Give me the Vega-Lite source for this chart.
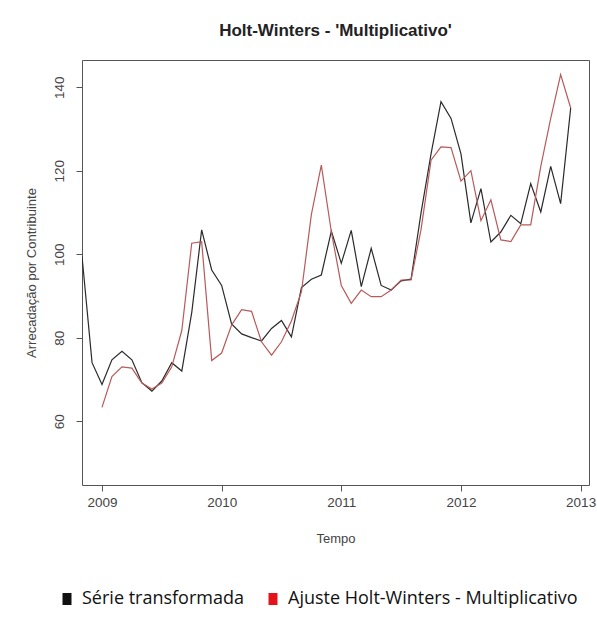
{
  "$schema": "https://vega.github.io/schema/vega-lite/v6.json",
  "autosize": {"type": "none"},
  "padding": {"left": 82, "top": 60, "right": 8, "bottom": 133},
  "width": 507,
  "height": 425,
  "background": "white",
  "title": {
    "text": "Holt-Winters - 'Multiplicativo'",
    "font": "Liberation Sans",
    "fontSize": 17,
    "fontWeight": "bold",
    "color": "#222222",
    "anchor": "middle",
    "offset": 20
  },
  "config": {
    "view": {"stroke": "#555555", "strokeWidth": 1},
    "axis": {
      "domain": false,
      "grid": false,
      "tickColor": "#555555",
      "tickSize": 6,
      "labelFont": "Liberation Sans",
      "labelFontSize": 13.5,
      "labelColor": "#444444",
      "titleFont": "Liberation Sans",
      "titleFontSize": 13,
      "titleFontWeight": "normal",
      "titleColor": "#444444"
    }
  },
  "data": {
    "values": [
      {"t": 2008.833, "serie": "Série transformada", "v": 99.5},
      {"t": 2008.917, "serie": "Série transformada", "v": 74.0},
      {"t": 2009.000, "serie": "Série transformada", "v": 68.8},
      {"t": 2009.083, "serie": "Série transformada", "v": 74.7},
      {"t": 2009.167, "serie": "Série transformada", "v": 76.7},
      {"t": 2009.250, "serie": "Série transformada", "v": 74.7},
      {"t": 2009.333, "serie": "Série transformada", "v": 69.2},
      {"t": 2009.417, "serie": "Série transformada", "v": 67.2},
      {"t": 2009.500, "serie": "Série transformada", "v": 69.6},
      {"t": 2009.583, "serie": "Série transformada", "v": 74.0},
      {"t": 2009.667, "serie": "Série transformada", "v": 72.0},
      {"t": 2009.750, "serie": "Série transformada", "v": 86.0},
      {"t": 2009.833, "serie": "Série transformada", "v": 105.8},
      {"t": 2009.917, "serie": "Série transformada", "v": 96.2},
      {"t": 2010.000, "serie": "Série transformada", "v": 92.5},
      {"t": 2010.083, "serie": "Série transformada", "v": 83.3},
      {"t": 2010.167, "serie": "Série transformada", "v": 80.9},
      {"t": 2010.250, "serie": "Série transformada", "v": 80.0},
      {"t": 2010.333, "serie": "Série transformada", "v": 79.2},
      {"t": 2010.417, "serie": "Série transformada", "v": 82.2},
      {"t": 2010.500, "serie": "Série transformada", "v": 84.1},
      {"t": 2010.583, "serie": "Série transformada", "v": 80.2},
      {"t": 2010.667, "serie": "Série transformada", "v": 92.0},
      {"t": 2010.750, "serie": "Série transformada", "v": 94.0},
      {"t": 2010.833, "serie": "Série transformada", "v": 95.0},
      {"t": 2010.917, "serie": "Série transformada", "v": 105.5},
      {"t": 2011.000, "serie": "Série transformada", "v": 97.8},
      {"t": 2011.083, "serie": "Série transformada", "v": 105.7},
      {"t": 2011.167, "serie": "Série transformada", "v": 92.2},
      {"t": 2011.250, "serie": "Série transformada", "v": 101.4},
      {"t": 2011.333, "serie": "Série transformada", "v": 92.5},
      {"t": 2011.417, "serie": "Série transformada", "v": 91.4},
      {"t": 2011.500, "serie": "Série transformada", "v": 93.6},
      {"t": 2011.583, "serie": "Série transformada", "v": 94.0},
      {"t": 2011.667, "serie": "Série transformada", "v": 110.0},
      {"t": 2011.750, "serie": "Série transformada", "v": 124.0},
      {"t": 2011.833, "serie": "Série transformada", "v": 136.5},
      {"t": 2011.917, "serie": "Série transformada", "v": 132.5},
      {"t": 2012.000, "serie": "Série transformada", "v": 124.0},
      {"t": 2012.083, "serie": "Série transformada", "v": 107.5},
      {"t": 2012.167, "serie": "Série transformada", "v": 115.7},
      {"t": 2012.250, "serie": "Série transformada", "v": 102.9},
      {"t": 2012.333, "serie": "Série transformada", "v": 105.3},
      {"t": 2012.417, "serie": "Série transformada", "v": 109.3},
      {"t": 2012.500, "serie": "Série transformada", "v": 107.3},
      {"t": 2012.583, "serie": "Série transformada", "v": 116.9},
      {"t": 2012.667, "serie": "Série transformada", "v": 110.1},
      {"t": 2012.750, "serie": "Série transformada", "v": 121.0},
      {"t": 2012.833, "serie": "Série transformada", "v": 112.1},
      {"t": 2012.917, "serie": "Série transformada", "v": 135.0},

      {"t": 2009.000, "serie": "Ajuste Holt-Winters - Multiplicativo", "v": 63.3},
      {"t": 2009.083, "serie": "Ajuste Holt-Winters - Multiplicativo", "v": 70.7},
      {"t": 2009.167, "serie": "Ajuste Holt-Winters - Multiplicativo", "v": 73.0},
      {"t": 2009.250, "serie": "Ajuste Holt-Winters - Multiplicativo", "v": 72.7},
      {"t": 2009.333, "serie": "Ajuste Holt-Winters - Multiplicativo", "v": 69.1},
      {"t": 2009.417, "serie": "Ajuste Holt-Winters - Multiplicativo", "v": 67.7},
      {"t": 2009.500, "serie": "Ajuste Holt-Winters - Multiplicativo", "v": 69.1},
      {"t": 2009.583, "serie": "Ajuste Holt-Winters - Multiplicativo", "v": 73.0},
      {"t": 2009.667, "serie": "Ajuste Holt-Winters - Multiplicativo", "v": 81.7},
      {"t": 2009.750, "serie": "Ajuste Holt-Winters - Multiplicativo", "v": 102.6},
      {"t": 2009.833, "serie": "Ajuste Holt-Winters - Multiplicativo", "v": 103.0},
      {"t": 2009.917, "serie": "Ajuste Holt-Winters - Multiplicativo", "v": 74.5},
      {"t": 2010.000, "serie": "Ajuste Holt-Winters - Multiplicativo", "v": 76.3},
      {"t": 2010.083, "serie": "Ajuste Holt-Winters - Multiplicativo", "v": 83.0},
      {"t": 2010.167, "serie": "Ajuste Holt-Winters - Multiplicativo", "v": 86.7},
      {"t": 2010.250, "serie": "Ajuste Holt-Winters - Multiplicativo", "v": 86.3},
      {"t": 2010.333, "serie": "Ajuste Holt-Winters - Multiplicativo", "v": 79.0},
      {"t": 2010.417, "serie": "Ajuste Holt-Winters - Multiplicativo", "v": 75.8},
      {"t": 2010.500, "serie": "Ajuste Holt-Winters - Multiplicativo", "v": 79.0},
      {"t": 2010.583, "serie": "Ajuste Holt-Winters - Multiplicativo", "v": 84.0},
      {"t": 2010.667, "serie": "Ajuste Holt-Winters - Multiplicativo", "v": 91.0},
      {"t": 2010.750, "serie": "Ajuste Holt-Winters - Multiplicativo", "v": 109.5},
      {"t": 2010.833, "serie": "Ajuste Holt-Winters - Multiplicativo", "v": 121.3},
      {"t": 2010.917, "serie": "Ajuste Holt-Winters - Multiplicativo", "v": 105.3},
      {"t": 2011.000, "serie": "Ajuste Holt-Winters - Multiplicativo", "v": 92.5},
      {"t": 2011.083, "serie": "Ajuste Holt-Winters - Multiplicativo", "v": 88.2},
      {"t": 2011.167, "serie": "Ajuste Holt-Winters - Multiplicativo", "v": 91.4},
      {"t": 2011.250, "serie": "Ajuste Holt-Winters - Multiplicativo", "v": 89.8},
      {"t": 2011.333, "serie": "Ajuste Holt-Winters - Multiplicativo", "v": 89.8},
      {"t": 2011.417, "serie": "Ajuste Holt-Winters - Multiplicativo", "v": 91.4},
      {"t": 2011.500, "serie": "Ajuste Holt-Winters - Multiplicativo", "v": 93.8},
      {"t": 2011.583, "serie": "Ajuste Holt-Winters - Multiplicativo", "v": 93.8},
      {"t": 2011.667, "serie": "Ajuste Holt-Winters - Multiplicativo", "v": 106.0},
      {"t": 2011.750, "serie": "Ajuste Holt-Winters - Multiplicativo", "v": 122.5},
      {"t": 2011.833, "serie": "Ajuste Holt-Winters - Multiplicativo", "v": 125.7},
      {"t": 2011.917, "serie": "Ajuste Holt-Winters - Multiplicativo", "v": 125.5},
      {"t": 2012.000, "serie": "Ajuste Holt-Winters - Multiplicativo", "v": 117.5},
      {"t": 2012.083, "serie": "Ajuste Holt-Winters - Multiplicativo", "v": 120.0},
      {"t": 2012.167, "serie": "Ajuste Holt-Winters - Multiplicativo", "v": 108.0},
      {"t": 2012.250, "serie": "Ajuste Holt-Winters - Multiplicativo", "v": 113.0},
      {"t": 2012.333, "serie": "Ajuste Holt-Winters - Multiplicativo", "v": 103.4},
      {"t": 2012.417, "serie": "Ajuste Holt-Winters - Multiplicativo", "v": 103.0},
      {"t": 2012.500, "serie": "Ajuste Holt-Winters - Multiplicativo", "v": 107.0},
      {"t": 2012.583, "serie": "Ajuste Holt-Winters - Multiplicativo", "v": 107.0},
      {"t": 2012.667, "serie": "Ajuste Holt-Winters - Multiplicativo", "v": 121.0},
      {"t": 2012.750, "serie": "Ajuste Holt-Winters - Multiplicativo", "v": 132.5},
      {"t": 2012.833, "serie": "Ajuste Holt-Winters - Multiplicativo", "v": 143.0},
      {"t": 2012.917, "serie": "Ajuste Holt-Winters - Multiplicativo", "v": 135.0}
    ]
  },
  "mark": {"type": "line", "strokeWidth": 1.2, "clip": true},
  "encoding": {
    "x": {
      "field": "t",
      "type": "quantitative",
      "scale": {"domain": [2008.833, 2013.07], "nice": false, "zero": false},
      "axis": {
        "title": "Tempo",
        "values": [2009, 2010, 2011, 2012, 2013],
        "format": "d",
        "labelPadding": 4,
        "titlePadding": 24
      }
    },
    "y": {
      "field": "v",
      "type": "quantitative",
      "scale": {"domain": [44.7, 146.5], "nice": false, "zero": false},
      "axis": {
        "title": "Arrecadação por Contribuinte",
        "values": [60, 80, 100, 120, 140],
        "labelAngle": 270,
        "labelAlign": "center",
        "labelBaseline": "bottom",
        "labelPadding": 10,
        "titlePadding": 14
      }
    },
    "color": {
      "field": "serie",
      "type": "nominal",
      "sort": ["Série transformada", "Ajuste Holt-Winters - Multiplicativo"],
      "scale": {
        "domain": ["Série transformada", "Ajuste Holt-Winters - Multiplicativo"],
        "range": ["#2a2a2a", "#b85a5a"]
      },
      "legend": {
        "title": null,
        "orient": "none",
        "direction": "horizontal",
        "legendX": -24,
        "legendY": 530,
        "symbolType": "M-0.75,-1H0.75V1H-0.75Z",
        "symbolSize": 144,
        "symbolStrokeWidth": 0,
        "labelFont": "Open Sans",
        "labelFontSize": 18,
        "labelColor": "#111111",
        "labelLimit": 600,
        "labelOffset": 6,
        "columnPadding": 20,
        "encode": {
          "symbols": {
            "update": {
              "fill": {"signal": "datum.value === 'Série transformada' ? '#111111' : '#e3121b'"},
              "stroke": {"value": "transparent"},
              "opacity": {"value": 1}
            }
          }
        }
      }
    }
  }
}
